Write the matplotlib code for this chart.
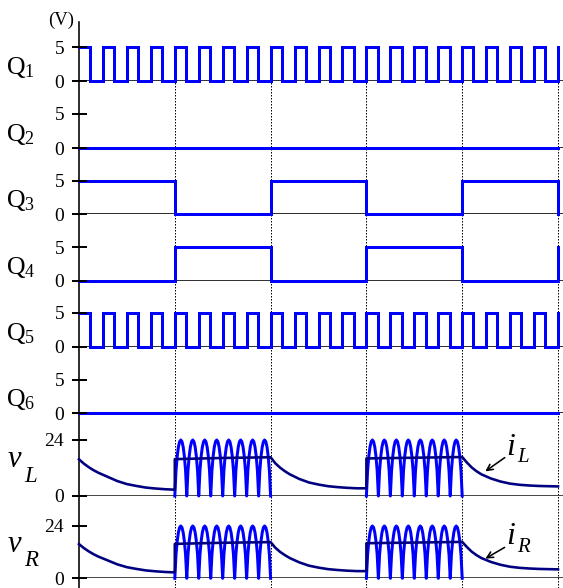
import numpy as np
import matplotlib
matplotlib.use('Agg')
import matplotlib.pyplot as plt
from matplotlib.patches import FancyArrowPatch
from matplotlib.lines import Line2D

# ---------------- data ----------------
seg_bounds = [0, 1, 2, 3, 4, 5]           # time axis, one unit per switching interval
fast_periods_per_segment = 4               # Q1 / Q5 PWM periods per interval
fast_duty = 0.47
fast_high = 5
q3_levels = [5, 0, 5, 0, 5]
q3_end = 0
q4_levels = [0, 5, 0, 5, 0]
q4_end = 5
q2_levels = [0, 0, 0, 0, 0]
q6_levels = [0, 0, 0, 0, 0]
gate_ticks = [0, 5]
gate_ticklabels = ['0', '5']
v_ticks = [0, 24]
v_ticklabels = ['0', '24']

active_segments = [1, 3]
arches_per_segment = 8
arch_frac = [0, .05, .1, .2, .3, .4, .5, .6, .7, .8, .9, .95, 1]
arch_volts = [0, 5.8, 10.8, 17.0, 21.0, 23.3, 24, 23.3, 21.0, 17.0, 10.8, 5.8, 0]

decay_frac = [0, .05, .1, .15, .2, .3, .4, .5, .6, .7, .8, .9, 1]
on_frac = [0, .5, 1]
iL_seg0 = [15.7, 13.9, 12.4, 11.1, 10.0, 8.2, 6.4, 5.1, 4.3, 3.6, 3.2, 2.9, 2.7]
iL_seg1 = [15.8, 16.3, 16.6]
iL_seg2 = [16.6, 14.0, 12.1, 10.6, 9.3, 7.3, 5.8, 4.9, 4.2, 3.8, 3.5, 3.3, 3.3]
iL_seg3 = [16.1, 16.4, 16.7]
iL_seg4 = [16.7, 14.3, 12.2, 10.6, 9.3, 7.5, 6.2, 5.3, 4.8, 4.5, 4.3, 4.2, 4.1]
iR_seg0 = iL_seg0
iR_seg1 = iL_seg1
iR_seg2 = iL_seg2
iR_seg3 = iL_seg3
iR_seg4 = iL_seg4

# ---------------- style / layout ----------------
plt.rcParams['font.family'] = ['Liberation Serif', 'DejaVu Serif']
plt.rcParams['mathtext.fontset'] = 'custom'
plt.rcParams['mathtext.rm'] = 'Liberation Serif'
plt.rcParams['mathtext.it'] = 'Liberation Serif:italic'

W, H, DPI = 563, 588, 100
BLUE = '#0000ff'
NAVY = '#000080'
PX = 72.0 / DPI  # points per pixel

x0_px, x5_px, xr_px = 79, 558, 563
xmax = 5 * (xr_px - x0_px) / (x5_px - x0_px)
panel_px = [(47, 81.3), (114, 148.3), (180.7, 214.3), (247.3, 280.7),
            (312.7, 346.7), (380, 413.3), (440, 496), (526, 578.3)]


def rect(left, right, top, bottom):
    return [left / W, 1 - bottom / H, (right - left) / W, (bottom - top) / H]


fig = plt.figure(figsize=(W / DPI, H / DPI), dpi=DPI)

# background axis: vertical axis line and dotted interval markers
bg = fig.add_axes(rect(x0_px, xr_px, 22, 588))
bg.set_xlim(0, xmax)
bg.set_ylim(0, 1)
for s in ['top', 'right', 'bottom']:
    bg.spines[s].set_visible(False)
bg.spines['left'].set_linewidth(1.6 * PX)
bg.spines['left'].set_color('black')
bg.set_xticks([])
bg.set_yticks([])
bg.patch.set_visible(False)
for t in seg_bounds[1:]:
    bg.axvline(t, ymin=0, ymax=(588 - 45) / (588 - 22), color='black',
               lw=1.0 * PX, linestyle=(0, (1.5, 1.5)))

panel_axes = []


def make_panel(i, top_val, ticks, labels, zero_color, zero_lw):
    top, bottom = panel_px[i]
    ax = fig.add_axes(rect(x0_px, xr_px, top, bottom))
    ax.patch.set_visible(False)
    for s in ax.spines.values():
        s.set_visible(False)
    ax.set_xlim(0, xmax)
    ax.set_ylim(0, top_val)
    ax.set_xticks([])
    ax.set_yticks(ticks)
    ax.set_yticklabels(labels)
    ax.tick_params(axis='y', length=0, pad=15 * PX, labelsize=14,
                   labelcolor='black')
    ax.axhline(0, color=zero_color, lw=zero_lw * PX, zorder=1)
    panel_axes.append((ax, ticks))
    return ax


def step_xy(levels, end_level):
    xs, ys = [], []
    for i, lvl in enumerate(levels):
        xs += [seg_bounds[i], seg_bounds[i + 1]]
        ys += [lvl, lvl]
    xs.append(seg_bounds[-1])
    ys.append(end_level)
    return xs, ys


def fast_xy():
    P = 1.0 / fast_periods_per_segment
    n = fast_periods_per_segment * (len(seg_bounds) - 1)
    xs, ys = [], []
    for k in range(n):
        t0 = k * P
        t1 = t0 + fast_duty * P
        if k == 0:
            xs += [t0, t1, t1]
            ys += [fast_high, fast_high, 0]
        else:
            xs += [t0, t0, t1, t1]
            ys += [0, fast_high, fast_high, 0]
    xs += [seg_bounds[-1], seg_bounds[-1]]
    ys += [0, fast_high]
    return xs, ys


gate_series = [fast_xy(), step_xy(q2_levels, 0), step_xy(q3_levels, q3_end),
               step_xy(q4_levels, q4_end), fast_xy(), step_xy(q6_levels, 0)]

for i, (xs, ys) in enumerate(gate_series):
    ax = make_panel(i, 5, gate_ticks, gate_ticklabels, 'black', 1.6)
    ax.plot(xs, ys, color=BLUE, lw=3 * PX, clip_on=False, zorder=3,
            solid_joinstyle='miter')
    top, bottom = panel_px[i]
    fig.text(6 / W, 1 - (bottom - 7) / H, r'$\mathrm{Q}_{%s}$' % str(i + 1),
             fontsize=18.5, ha='left', va='baseline')


def current_xy(segs):
    xs, ys = [], []
    for i, vals in enumerate(segs):
        fr = on_frac if len(vals) == len(on_frac) else decay_frac
        xs += [seg_bounds[i] + f for f in fr]
        ys += list(vals)
    return xs, ys


def arches_xy():
    xs, ys = [], []
    w = 1.0 / arches_per_segment
    for s in active_segments:
        for k in range(arches_per_segment):
            xs += [s + k * w + f * w for f in arch_frac]
            ys += arch_volts
        xs.append(np.nan)
        ys.append(np.nan)
    return xs, ys


v_panels = [(6, [iL_seg0, iL_seg1, iL_seg2, iL_seg3, iL_seg4], 'L', 29, 14),
            (7, [iR_seg0, iR_seg1, iR_seg2, iR_seg3, iR_seg4], 'R', 26, 12)]

for idx, segs, sub, v_off, s_off in v_panels:
    ax = make_panel(idx, 24, v_ticks, v_ticklabels, '#4a4a4a', 2.0)
    ax_x, ax_y = arches_xy()
    ax.plot(ax_x, ax_y, color=BLUE, lw=3 * PX, clip_on=False, zorder=3)
    cx, cy = current_xy(segs)
    ax.plot(cx, cy, color=NAVY, lw=2.6 * PX, clip_on=False, zorder=4)
    top, bottom = panel_px[idx]
    fig.text(8 / W, 1 - (bottom - v_off) / H, 'v', fontsize=22,
             style='italic', ha='left', va='baseline')
    fig.text(24 / W, 1 - (bottom - s_off) / H, sub, fontsize=16.5,
             style='italic', ha='left', va='baseline')

# tick marks crossing the vertical axis, placed through each panel's data scale
to_fig = fig.transFigure.inverted()
for ax, ticks in panel_axes:
    for v in ticks:
        dx, dy = ax.transData.transform((0, v))
        fx, fy = to_fig.transform((dx, dy))
        fig.add_artist(Line2D([fx - 7 / W, fx + 8 / W], [fy, fy],
                              transform=fig.transFigure, color='black',
                              lw=2.0 * PX, solid_capstyle='butt', zorder=10))

# current annotations
annots = [('L', 455, 462, (507, 456), (483, 473)),
          ('R', 544, 552, (507, 546), (483, 560))]
for sub, ib, sb, p_from, p_to in annots:
    fig.text(506 / W, 1 - ib / H, 'i', fontsize=23, style='italic',
             ha='left', va='baseline')
    fig.text(517 / W, 1 - sb / H, sub, fontsize=15, style='italic',
             ha='left', va='baseline')
    fig.add_artist(FancyArrowPatch(
        (p_from[0] / W, 1 - p_from[1] / H), (p_to[0] / W, 1 - p_to[1] / H),
        transform=fig.transFigure, arrowstyle='->', mutation_scale=11,
        lw=1.6 * PX, color='black'))

fig.text(61 / W, 1 - 20 / H, '(V)', fontsize=13.5, ha='center', va='center')

fig.savefig('out.png', dpi=DPI)
